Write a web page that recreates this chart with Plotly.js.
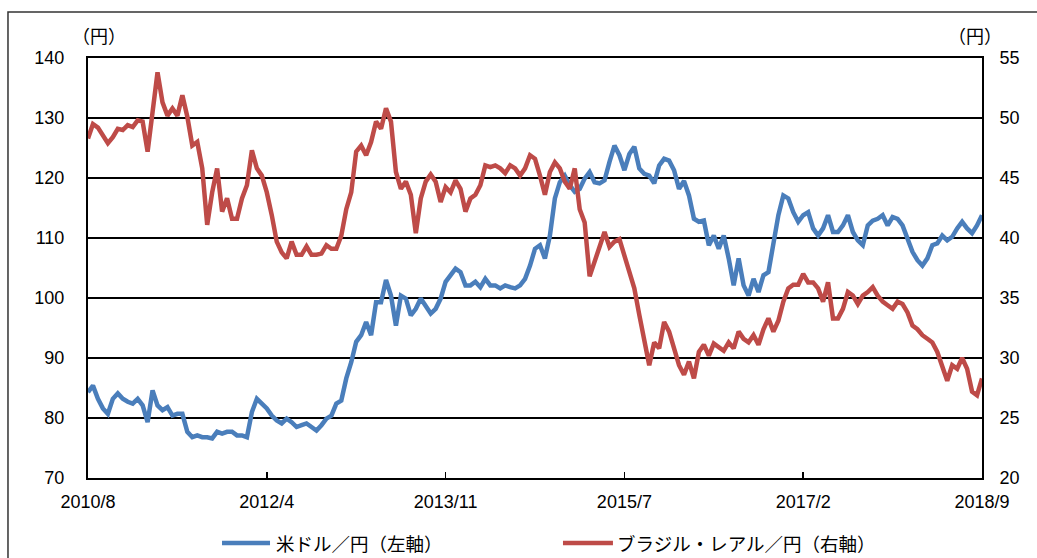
<!DOCTYPE html>
<html><head><meta charset="utf-8">
<script src="https://cdn.plot.ly/plotly-3.0.1.min.js"></script>
<style>html,body{margin:0;padding:0;background:#fff;overflow:hidden}#chart{width:1037px;height:558px}</style>
</head><body><div id="chart"></div>
<script>
// Tick labels (evenly spaced along the observation index, as in the source chart)
const tickLabels = ['2010/8', '2012/4', '2013/11', '2015/7', '2017/2', '2018/9'];
const tickIndex = [0, 36, 72, 108, 144, 180];
const seriesNames = ['米ドル／円（左軸）', 'ブラジル・レアル／円（右軸）'];
const unitLabel = '（円）';

// USD/JPY (left axis)
const usdJpy = [
  84.3, 85.4, 83.2, 81.6, 80.7, 83.2, 84.1, 83.2, 82.7, 82.4,
  83.2, 82.1, 79.3, 84.6, 82.1, 81.3, 81.8, 80.4, 80.7, 80.7,
  77.7, 76.8, 77.1, 76.8, 76.8, 76.6, 77.7, 77.4, 77.7, 77.7,
  77.1, 77.1, 76.8, 81.0, 83.2, 82.4, 81.6, 80.4, 79.6, 79.1,
  79.9, 79.3, 78.5, 78.8, 79.1, 78.5, 77.9, 78.8, 79.9, 80.4,
  82.4, 82.9, 86.6, 89.3, 92.7, 93.8, 96.0, 93.8, 99.3, 99.3,
  103.0, 100.4, 95.4, 100.4, 99.9, 97.1, 98.2, 99.9, 98.8, 97.4,
  98.2, 99.9, 102.7, 103.8, 104.9, 104.3, 102.1, 102.1, 102.7, 101.8,
  103.2, 102.1, 102.1, 101.6, 102.1, 101.8, 101.6, 102.1, 103.2, 105.4,
  108.2, 108.8, 106.6, 110.4, 116.6, 119.3, 120.4, 118.8, 117.7, 118.2,
  119.9, 121.0, 119.3, 119.1, 119.6, 122.7, 125.4, 123.8, 121.3, 124.0,
  125.2, 121.6, 120.7, 120.4, 119.1, 122.1, 123.2, 122.9, 121.3, 118.2,
  119.5, 117.1, 113.2, 112.7, 112.9, 108.8, 110.4, 108.2, 110.4, 106.6,
  102.1, 106.6, 102.1, 100.4, 103.2, 101.0, 103.8, 104.3, 109.3, 113.8,
  117.1, 116.6, 114.3, 112.7, 113.8, 114.3, 111.6, 110.4, 111.6, 113.8,
  111.0, 111.0, 112.1, 113.8, 111.0, 109.6, 108.8, 112.1, 112.9, 113.2,
  113.8, 112.1, 113.5, 113.2, 112.1, 109.9, 107.7, 106.3, 105.4, 106.6,
  108.8, 109.1, 110.4, 109.6, 110.2, 111.6, 112.7, 111.6, 110.8, 112.1,
  113.8
];

// BRL/JPY (right axis)
const brlJpy = [
  48.3, 49.5, 49.2, 48.6, 47.9, 48.4, 49.1, 49.0, 49.4, 49.25,
  49.8, 49.7, 47.2, 50.5, 53.8, 51.3, 50.2, 50.8, 50.2, 51.9,
  50.1, 47.7, 48.0, 45.8, 41.1, 43.8, 45.8, 42.2, 43.3, 41.6,
  41.6, 43.3, 44.4, 47.3, 45.8, 45.2, 43.8, 41.9, 39.7, 38.8,
  38.3, 39.7, 38.6, 38.6, 39.3, 38.6, 38.6, 38.7, 39.4, 39.1,
  39.1, 40.2, 42.4, 43.8, 47.2, 47.7, 46.9, 48.0, 49.7, 49.1,
  50.8, 49.7, 45.5, 44.1, 44.7, 43.6, 40.4, 43.3, 44.7, 45.3,
  44.7, 43.0, 44.25, 43.8, 44.8, 44.1, 42.2, 43.3, 43.6, 44.4,
  46.05, 45.9, 46.05, 45.8, 45.4, 46.05, 45.8, 45.2, 45.8, 46.9,
  46.6, 45.2, 43.6, 45.5, 46.3, 45.8, 44.7, 44.1, 45.8, 42.4,
  41.3, 36.8, 38.0, 39.4, 40.5, 39.25, 39.7, 39.9, 38.6, 37.2,
  35.8, 33.6, 31.3, 29.4, 31.3, 30.8, 33.0, 32.2, 30.8, 29.4,
  28.6, 29.7, 28.3, 30.5, 31.1, 30.2, 31.2, 30.9, 30.6, 31.3,
  30.8, 32.2, 31.6, 31.3, 31.9, 31.1, 32.4, 33.3, 32.2, 33.1,
  34.7, 35.8, 36.1, 36.1, 37.0, 36.3, 36.3, 35.8, 34.7, 36.3,
  33.3, 33.3, 34.1, 35.5, 35.2, 34.5, 35.2, 35.5, 35.9, 35.2,
  34.7, 34.4, 34.1, 34.7, 34.5, 33.8, 32.7, 32.4, 31.9, 31.6,
  31.3, 30.5, 29.4, 28.1, 29.4, 29.1, 30.0, 29.1, 27.2, 26.9,
  28.3
];

const obsIndex = usdJpy.map((_, i) => i);
const blue = '#4A7EBB', red = '#BE4B48';
const numFont = 'Liberation Sans, Arial, Noto Sans CJK JP, sans-serif';
const jpFont = 'Noto Sans CJK JP, sans-serif';

const traces = [
  {x: obsIndex, y: usdJpy, type: 'scatter', mode: 'lines', name: seriesNames[0],
   line: {color: blue, width: 4.5}, yaxis: 'y'},
  {x: obsIndex, y: brlJpy, type: 'scatter', mode: 'lines', name: seriesNames[1],
   line: {color: red, width: 4.5}, yaxis: 'y2'}
];

const legY = -0.155;
const layout = {
  width: 1037, height: 558,
  margin: {l: 88, r: 55, t: 58, b: 80, pad: 0},
  paper_bgcolor: '#fff', plot_bgcolor: '#fff',
  showlegend: false,
  font: {family: numFont, size: 18, color: '#000'},
  xaxis: {
    range: [0, obsIndex.length - 1], tickvals: tickIndex, ticktext: tickLabels,
    ticks: 'inside', ticklen: 6, tickwidth: 1.5, tickcolor: '#000',
    showline: true, linecolor: '#000', linewidth: 2, mirror: true,
    showgrid: false, zeroline: false, ticklabelstandoff: 6,
    tickfont: {family: numFont, size: 18, color: '#000'}
  },
  yaxis: {
    range: [70, 140], dtick: 10, tick0: 70, ticks: '',
    showline: true, linecolor: '#000', linewidth: 2,
    showgrid: true, gridcolor: '#000', gridwidth: 1.5, zeroline: false,
    ticklabelstandoff: 18,
    tickfont: {family: numFont, size: 18, color: '#000'}
  },
  yaxis2: {
    range: [20, 55], dtick: 5, tick0: 20, overlaying: 'y', side: 'right', ticks: '',
    showline: true, linecolor: '#000', linewidth: 2,
    showgrid: false, zeroline: false, ticklabelstandoff: 12,
    tickfont: {family: numFont, size: 18, color: '#000'}
  },
  shapes: [
    {type: 'rect', xref: 'paper', yref: 'paper', x0: -0.0895, x1: 1.3, y0: -0.4, y1: 1.1095,
     line: {color: '#333', width: 1.5}, fillcolor: 'rgba(0,0,0,0)', layer: 'below'},
    {type: 'line', xref: 'paper', yref: 'paper', x0: 0.1499, x1: 0.2036, y0: legY, y1: legY,
     line: {color: blue, width: 4.5}},
    {type: 'line', xref: 'paper', yref: 'paper', x0: 0.5313, x1: 0.5872, y0: legY, y1: legY,
     line: {color: red, width: 4.5}}
  ],
  annotations: [
    {text: seriesNames[0], xref: 'paper', yref: 'paper', x: 0.2080, y: legY, xanchor: 'left', yanchor: 'middle',
     showarrow: false, font: {family: jpFont, size: 18.5, color: '#000'}},
    {text: seriesNames[1], xref: 'paper', yref: 'paper', x: 0.5895, y: legY, xanchor: 'left', yanchor: 'middle',
     showarrow: false, font: {family: jpFont, size: 18.5, color: '#000'}},
    {text: unitLabel, xref: 'paper', yref: 'paper', x: 0.0123, y: 1.0548, xanchor: 'center', yanchor: 'middle',
     showarrow: false, font: {family: jpFont, size: 18, color: '#000'}},
    {text: unitLabel, xref: 'paper', yref: 'paper', x: 0.9922, y: 1.0548, xanchor: 'center', yanchor: 'middle',
     showarrow: false, font: {family: jpFont, size: 18, color: '#000'}}
  ]
};

Plotly.newPlot('chart', traces, layout, {displayModeBar: false, staticPlot: true});
</script>
</body></html>
